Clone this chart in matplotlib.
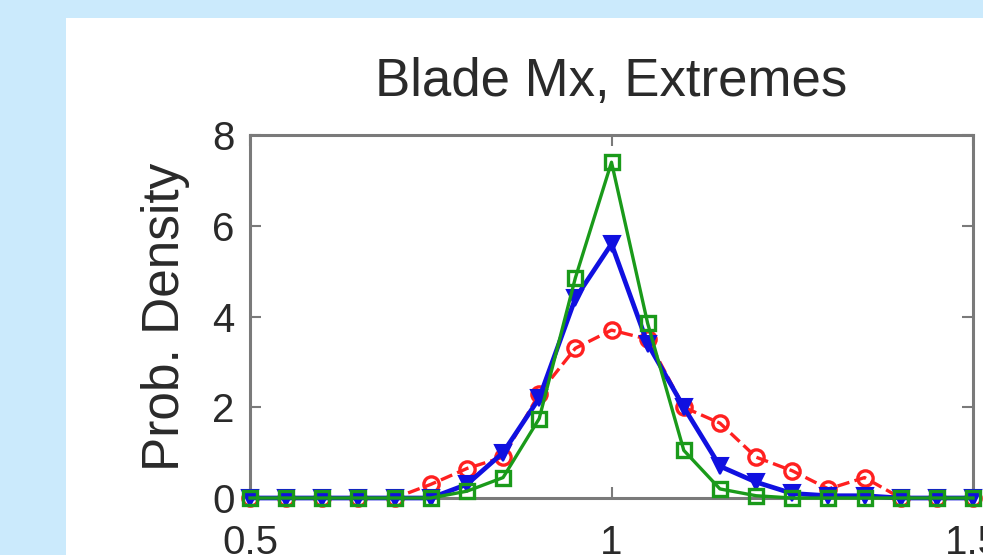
import matplotlib
matplotlib.use("Agg")
import matplotlib.pyplot as plt
from matplotlib.patches import Rectangle

plt.rcParams['font.family'] = ['Liberation Sans', 'DejaVu Sans']

# Data
x_vals = [0.50, 0.55, 0.60, 0.65, 0.70, 0.75, 0.80, 0.85, 0.90, 0.95, 1.00,
          1.05, 1.10, 1.15, 1.20, 1.25, 1.30, 1.35, 1.40, 1.45, 1.50]
red_vals = [0, 0, 0, 0, 0, 0.30, 0.65, 0.90, 2.30, 3.30, 3.70,
            3.50, 2.00, 1.65, 0.90, 0.60, 0.20, 0.45, 0, 0, 0]
blue_vals = [0, 0, 0, 0, 0, 0, 0.30, 1.00, 2.20, 4.40, 5.60,
             3.40, 2.00, 0.70, 0.35, 0.10, 0.05, 0.05, 0, 0, 0]
green_vals = [0, 0, 0, 0, 0, 0, 0.15, 0.45, 1.75, 4.85, 7.40,
              3.85, 1.05, 0.20, 0.05, 0, 0, 0, 0, 0, 0]
x_ticks = [0.5, 1, 1.5]
x_ticklabels = ['0.5', '1', '1.5']
y_ticks = [0, 2, 4, 6, 8]
title = 'Blade Mx, Extremes'
ylabel = 'Prob. Density'

W, H = 983, 555
fig = plt.figure(figsize=(W / 100, H / 100), dpi=100)
fig.patch.set_facecolor('#cbeafc')
fig.patches.append(Rectangle((66 / W, 0), 1, 1 - 18 / H, transform=fig.transFigure,
                             facecolor='white', edgecolor='none', zorder=-10))

ax = fig.add_axes([250 / W, 1 - 498 / H, (973 - 250) / W, (498 - 135) / H])
ax.set_facecolor('white')

ax.plot(x_vals, red_vals, color='#ff2020', linestyle='--', linewidth=2.4,
        marker='o', markersize=11, markerfacecolor='none', markeredgewidth=2.4,
        clip_on=False, zorder=3)
ax.plot(x_vals, blue_vals, color='#1010e0', linestyle='-', linewidth=3.4,
        marker='v', markersize=11, markerfacecolor='#1010e0', markeredgewidth=1.5,
        clip_on=False, zorder=4)
ax.plot(x_vals, green_vals, color='#1a9a1a', linestyle='-', linewidth=2.4,
        marker='s', markersize=10, markerfacecolor='none', markeredgewidth=2.4,
        clip_on=False, zorder=5)

ax.set_xlim(0.5, 1.5)
ax.set_ylim(0, 8)
ax.set_xticks(x_ticks)
ax.set_xticklabels(x_ticklabels)
ax.set_yticks(y_ticks)

for s in ax.spines.values():
    s.set_color('#7a7a7a')
    s.set_linewidth(2.2)
ax.tick_params(direction='in', length=8, width=1.5, color='#7a7a7a',
               labelsize=29, labelcolor='#2a2a2a', top=True, right=True, pad=11)
ax.tick_params(axis='x', pad=19)

ax.set_title(title, fontsize=38, color='#2a2a2a', pad=28)
ax.set_ylabel(ylabel, fontsize=37, color='#2a2a2a', labelpad=16)

fig.savefig('out.png', dpi=100, facecolor=fig.get_facecolor())
